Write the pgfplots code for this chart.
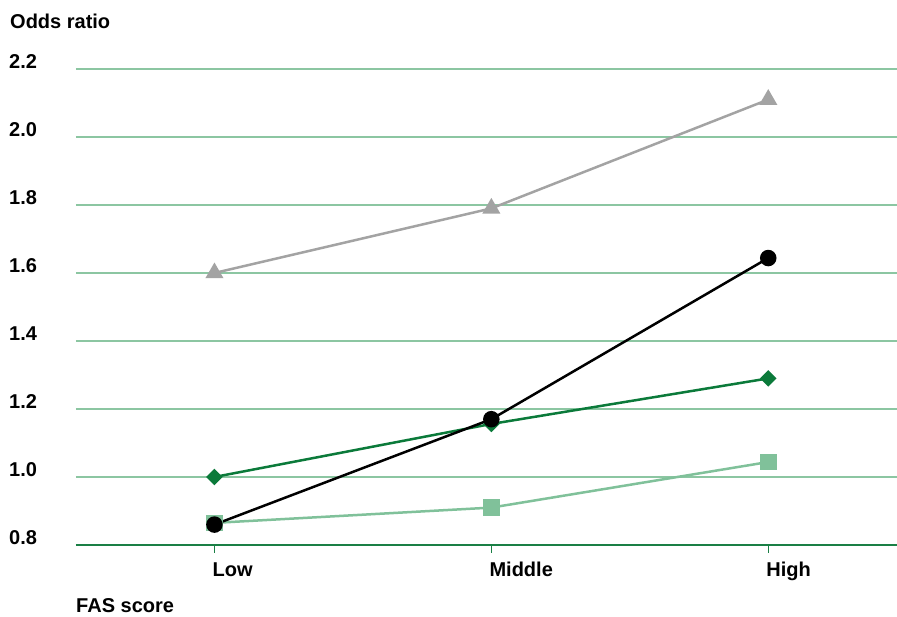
\documentclass[border=0pt]{standalone}
\usepackage{pgfplots}
\pgfplotsset{compat=1.18}
\usepackage{fontspec}
\setmainfont{Liberation Sans}
\definecolor{gridgreen}{HTML}{8CC6A2}
\definecolor{axisgreen}{HTML}{1A7F45}
\definecolor{dkgreen}{HTML}{0B7A3A}
\definecolor{ltgreen}{HTML}{80C19A}
\definecolor{greyline}{HTML}{A3A3A3}
\begin{document}
\begin{tikzpicture}[x=1pt,y=1pt]
\path[use as bounding box] (0,0) rectangle (897,617);
\begin{axis}[
  at={(76pt,72pt)}, anchor=south west,
  scale only axis, width=821pt, height=476pt,
  xmin=-0.5, xmax=2.465, ymin=0.8, ymax=2.2,
  xtick={0,1,2}, xticklabels={Low,Middle,High},
  ytick={0.8,1.0,1.2,1.4,1.6,1.8,2.0,2.2},
  yticklabels={0.8,1.0,1.2,1.4,1.6,1.8,2.0,2.2},
  ymajorgrids, grid style={gridgreen, line width=1.3pt},
  axis x line=bottom, axis y line=left,
  y axis line style={draw=none},
  x axis line style={axisgreen, line width=1.6pt, -},
  xtick style={axisgreen, line width=1.3pt},
  major tick length=8pt, tick align=outside,
  ytick style={draw=none},
  /pgf/number format/assume math mode=true,
  tick label style={font=\fontsize{20}{22}\selectfont\bfseries},
  yticklabel style={anchor=base west, xshift=-59pt, inner sep=0pt},
  xticklabel style={anchor=base west, inner sep=0pt, xshift=-2pt, yshift=-24pt},
  clip=false,
]
\addplot[greyline, line width=2.5pt, mark=triangle*, mark size=8pt, mark options={solid}]
  coordinates {(0,1.60) (1,1.79) (2,2.11)};
\addplot[ltgreen, line width=2.5pt, mark=square*, mark size=7pt]
  coordinates {(0,0.865) (1,0.91) (2,1.044)};
\addplot[dkgreen, line width=2.5pt, mark=square*, mark size=4.6pt, mark options={rotate=45}]
  coordinates {(0,1.00) (1,1.156) (2,1.29)};
\addplot[black, line width=2.5pt, mark=*, mark size=7pt]
  coordinates {(0,0.86) (1,1.17) (2,1.644)};
\end{axis}
\node[anchor=base west, inner sep=0pt, font=\fontsize{20}{22}\selectfont\bfseries] at (10,588) {Odds ratio};
\node[anchor=base west, inner sep=0pt, font=\fontsize{20}{22}\selectfont\bfseries] at (76,4) {FAS score};
\end{tikzpicture}
\end{document}
